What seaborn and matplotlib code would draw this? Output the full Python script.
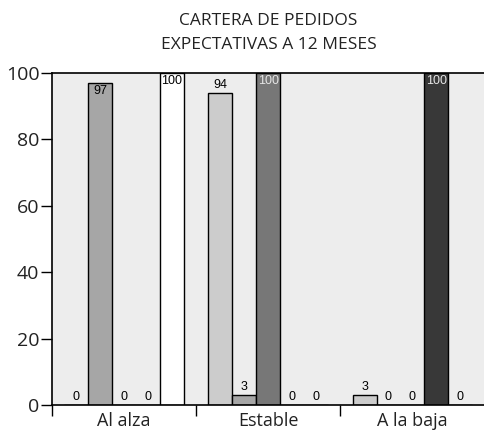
import pandas as pd
import matplotlib.pyplot as plt
import seaborn as sns

# Datos del gráfico
categorias = ['Al alza', 'Estable', 'A la baja']
series = ['S1', 'S2', 'S3', 'S4', 'S5']
valores = {
    'S1': [0, 94, 3],
    'S2': [97, 3, 0],
    'S3': [0, 100, 0],
    'S4': [0, 0, 100],
    'S5': [100, 0, 0],
}
colores = ['#cccccc', '#a6a6a6', '#777777', '#383838', '#ffffff']
titulo = 'CARTERA DE PEDIDOS\nEXPECTATIVAS A 12 MESES'

rows = []
for s in series:
    for c, v in zip(categorias, valores[s]):
        rows.append({'categoria': c, 'serie': s, 'valor': v})
df = pd.DataFrame(rows)

sns.set_style('white')
plt.rcParams['font.family'] = ['Open Sans', 'DejaVu Sans']

fig = plt.figure(figsize=(4.85, 4.32), dpi=100)
ax = fig.add_axes([52 / 485, 1 - 405 / 432, 1 - 52 / 485 - 0.001, (405 - 73) / 432])
ax.set_facecolor('#ededed')

sns.barplot(data=df, x='categoria', y='valor', hue='serie', order=categorias,
            hue_order=series, palette=colores, width=0.83, edgecolor='black',
            linewidth=1, saturation=1, legend=False, ax=ax)

# etiquetas de valores
for i, cont in enumerate(ax.containers):
    for p in cont.patches:
        h = p.get_height()
        xc = p.get_x() + p.get_width() / 2
        if h >= 96:
            col = '#e6e6e6' if i in (2, 3) else 'black'
            ax.text(xc, h - 0.6, f'{h:.0f}', ha='center', va='top', fontsize=9,
                    color=col, family='Liberation Sans')
        else:
            ax.text(xc, h + 0.6, f'{h:.0f}', ha='center', va='bottom', fontsize=9,
                    color='black', family='Liberation Sans')

ax.set_ylim(0, 100)
ax.set_xlim(-0.5, 2.5)
ax.set_yticks([0, 20, 40, 60, 80, 100])
ax.set_xticks([-0.5, 0.5, 1.5, 2.5])
ax.set_xticklabels([])
ax.set_xticks([0, 1, 2], minor=True)
ax.set_xticklabels(categorias, minor=True)
ax.tick_params(axis='x', which='minor', bottom=False, length=0, labelsize=13,
               colors='#222222', pad=5)
ax.tick_params(axis='x', which='major', bottom=True, direction='out', length=8,
               width=1, color='black')
ax.tick_params(axis='y', left=True, direction='out', length=8, width=1, color='black',
               labelsize=14, labelcolor='#222222', pad=1)
ax.set_xlabel('')
ax.set_ylabel('')

for side in ['left', 'top', 'bottom']:
    ax.spines[side].set_visible(True)
    ax.spines[side].set_color('black')
    ax.spines[side].set_linewidth(1.2)
ax.spines['right'].set_visible(False)

fig.text((52 + 485) / 2 / 485, 1 - 33 / 432, titulo, ha='center', va='center',
         fontsize=12.5, color='#222222', linespacing=1.65)

fig.savefig('out.png', dpi=100)
plt.close()
